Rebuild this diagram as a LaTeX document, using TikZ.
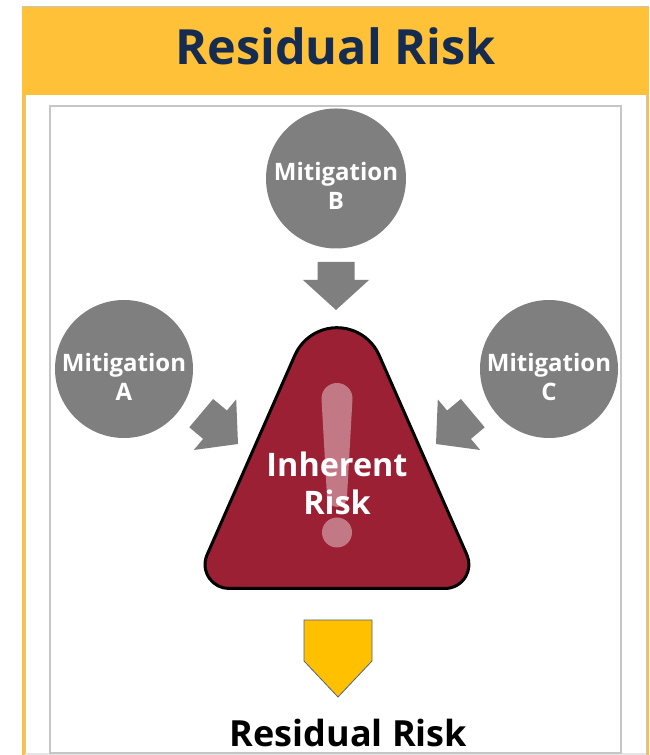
\documentclass[tikz,border=0pt]{standalone}
\usepackage{fontspec}
\setmainfont{Open Sans}
\usetikzlibrary{calc}
\definecolor{hdryellow}{RGB}{254,193,55}
\definecolor{navy}{RGB}{22,43,80}
\definecolor{mgray}{RGB}{127,127,127}
\definecolor{warnred}{RGB}{155,32,52}
\definecolor{pentyellow}{RGB}{255,192,0}
\definecolor{pentedge}{RGB}{80,100,130}
\definecolor{boxgray}{RGB}{198,198,198}
\tikzset{
  mitcircle/.style={circle, fill=mgray, draw=none, inner sep=0pt},
  mtext/.style={text=white, font=\bfseries\fontsize{24}{29}\selectfont, align=center, anchor=base, inner sep=0pt},
  blockarrow/.style={fill=mgray, draw=none},
}
\begin{document}
\begin{tikzpicture}[x=1pt,y=1pt]
\useasboundingbox (0,0) rectangle (649,755);
% outer panel
\fill[white] (0,0) rectangle (649,755);
\fill[hdryellow] (22,660) rectangle (649,748);
\draw[boxgray, line width=1pt] (22,748.5) -- (649,748.5);
\fill[hdryellow] (22,0) rectangle (24.6,660);
\fill[hdryellow] (647,0) rectangle (649,660);
\draw[boxgray, line width=0.6pt] (25,0) -- (25,660);
\draw[boxgray, line width=0.6pt] (646.6,0) -- (646.6,660);
\fill[black!10] (25.3,0) rectangle (646.3,2);
% title
\node[text=navy, font=\bfseries\fontsize{48.5}{48.5}\selectfont, anchor=base, inner sep=0pt] (title) at (335.5,690) {Residual Risk};
% inner box
\draw[boxgray, line width=1.2pt] (50,2) rectangle (621,649);
% circles
\node[mitcircle, minimum size=140pt] (mitB) at (336,576.5) {};
\node[mitcircle, minimum size=138pt] (mitA) at (124,386) {};
\node[mitcircle, minimum size=138pt] (mitC) at (549,386) {};
\node[mtext] (tB) at (336,545) {Mitigation\\B};
\node[mtext] (tA) at (124,354) {Mitigation\\A};
\node[mtext] (tC) at (549,354) {Mitigation\\C};
% block arrows
\fill[blockarrow] (336,445) -- (369,475) -- (354.5,475) -- (354.5,493) -- (317.5,493) -- (317.5,475) -- (303,475) -- cycle;
\fill[blockarrow] (238,311) -- (236.2,355.6) -- (226.9,344.5) -- (213.1,356.0) -- (189.3,327.7) -- (203.1,316.1) -- (193.8,305.0) -- cycle;
\fill[blockarrow] (436,311) -- (437.8,355.6) -- (447.1,344.5) -- (460.9,356.0) -- (484.7,327.7) -- (470.9,316.1) -- (480.2,305.0) -- cycle;
% warning triangle
\coordinate (Cl) at (229.02,190.5);
\coordinate (Cr) at (444.96,190.5);
\coordinate (Ca) at (337,381.3);
\draw[fill=warnred, draw=black, line width=3pt, line join=round]
  (229.02,166.5) -- (444.96,166.5)
  arc[start angle=-90, end angle=23.75, radius=24]
  -- ($(Ca)+(23.75:46)$)
  arc[start angle=23.75, end angle=156.25, radius=46]
  -- ($(Cl)+(156.25:24)$)
  arc[start angle=156.25, end angle=270, radius=24]
  -- cycle;
% exclamation mark
\fill[white, opacity=0.4] (321.5,356.5) -- (327,258) arc[start angle=180, end angle=360, radius=10] -- (352.5,356.5) arc[start angle=0, end angle=180, radius=15.5] -- cycle;
\fill[white, opacity=0.4] (337,222.5) circle[radius=15];
\node[text=white, font=\bfseries\fontsize{32.4}{38}\selectfont, align=center, anchor=base, inner sep=0pt] (inh) at (337,240) {Inherent\\Risk};
% residual arrow
\draw[fill=pentyellow, draw=pentedge, line width=0.8pt, line join=miter] (304,135) -- (372,135) -- (372,94) -- (338,58) -- (304,94) -- cycle;
\node[text=black, font=\bfseries\fontsize{36}{36}\selectfont, anchor=base, inner sep=0pt] (res) at (348.5,9) {Residual Risk};
\end{tikzpicture}
\end{document}
